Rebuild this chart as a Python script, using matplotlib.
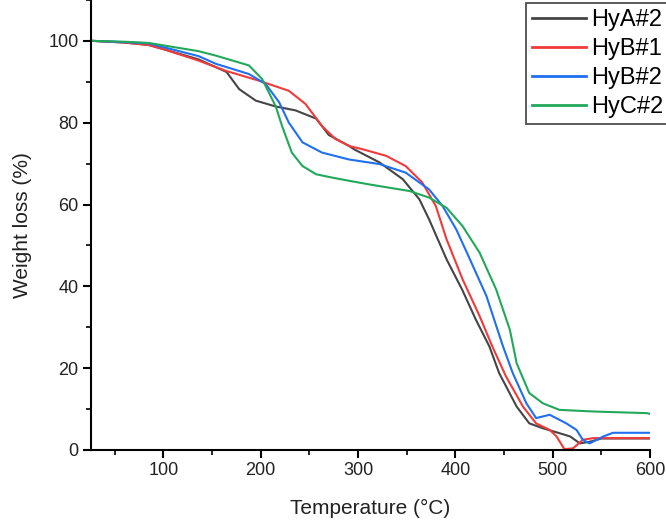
import numpy as np
import matplotlib
matplotlib.use("Agg")
import matplotlib.pyplot as plt
from matplotlib.ticker import MultipleLocator

# -------------------------------
# Data
# -------------------------------
hya2_t = [28, 60, 85, 100, 136, 165, 178, 195, 215, 236, 257, 270, 291, 296, 322, 346,
          363, 373, 391, 407, 421, 435, 445, 463, 476, 490, 507, 518, 528, 538, 550, 600]
hya2_w = [100, 99.6, 99.0, 98.0, 95.5, 92.4, 88.2, 85.4, 84.0, 83.0, 81.0, 77.0, 74.3, 73.5, 70.3, 66.2,
          61.3, 56.4, 46.6, 39.2, 31.9, 25.3, 18.8, 10.6, 6.5, 5.3, 4.1, 3.3, 1.6, 2.0, 2.8, 2.8]

hyb1_t = [28, 60, 85, 100, 136, 164, 198, 229, 246, 263, 277, 291, 305, 329, 349, 366, 380,
          391, 407.5, 425, 438, 452, 469.5, 483, 497, 504, 512, 521, 531, 542, 600]
hyb1_w = [100, 99.6, 99.0, 98.0, 95.2, 92.7, 90.3, 87.8, 84.6, 79.2, 76.0, 74.3, 73.5, 71.9, 69.4, 65.4, 59.6,
          51.5, 41.7, 32.7, 25.3, 18.0, 10.6, 6.5, 4.9, 3.3, 0.2, 0.4, 2.5, 2.9, 2.9]

hyb2_t = [28, 60, 85, 136, 154, 188, 205, 219, 229, 243, 263, 291, 322, 349, 373, 387, 401,
          415, 432, 449, 459, 473, 483, 497, 514, 524.5, 531, 538, 552, 562, 600]
hyb2_w = [100, 99.7, 99.4, 96.3, 94.4, 91.9, 89.5, 85.0, 80.0, 75.2, 72.7, 71.0, 69.9, 67.8, 63.7, 59.6, 53.9,
          46.6, 37.6, 25.3, 18.8, 11.4, 7.8, 8.6, 6.5, 4.9, 2.45, 1.6, 3.3, 4.2, 4.2]

hyc2_t = [28, 60, 85, 136, 154, 188, 201.5, 215.5, 222, 232, 243, 257, 271, 291, 312, 353, 373,
          391, 407.5, 425, 442, 456, 463, 476, 490, 507, 542, 597, 600]
hyc2_w = [100, 99.8, 99.5, 97.5, 96.4, 94.0, 90.7, 84.0, 79.2, 72.7, 69.4, 67.4, 66.7, 65.8, 64.9, 63.3, 61.7,
          59.2, 54.7, 48.2, 39.2, 29.4, 21.2, 13.9, 11.4, 9.8, 9.4, 9.0, 8.8]

labels = ["HyA#2", "HyB#1", "HyB#2", "HyC#2"]
colors = ["#454545", "#f23a3a", "#1f6ff0", "#22a85a"]

# -------------------------------
# Plot
# -------------------------------
plt.rcParams["font.family"] = ["Liberation Sans", "DejaVu Sans"]

fig = plt.figure(figsize=(6.66, 5.22), dpi=100)
ax = fig.add_axes([0.1366, 0.138, 0.976 - 0.1366, 0.862])

series = [(hya2_t, hya2_w), (hyb1_t, hyb1_w), (hyb2_t, hyb2_w), (hyc2_t, hyc2_w)]
for (t, w), lab, c in zip(series, labels, colors):
    ax.plot(t, w, color=c, lw=1.5, label=lab)

ax.set_xlim(25.7, 600)
ax.set_ylim(0, 110)
ax.xaxis.set_major_locator(MultipleLocator(100))
ax.xaxis.set_minor_locator(MultipleLocator(50))
ax.yaxis.set_major_locator(MultipleLocator(20))
ax.yaxis.set_minor_locator(MultipleLocator(10))
ax.set_xticks([100, 200, 300, 400, 500, 600])

for side in ["top", "right"]:
    ax.spines[side].set_visible(False)
for side in ["left", "bottom"]:
    ax.spines[side].set_linewidth(1.5)

ax.tick_params(which="major", direction="out", length=5.5, width=1.5, labelsize=13, colors="black",
               labelcolor="#222222")
ax.tick_params(which="minor", direction="out", length=3.5, width=1.2)

ax.set_xlabel("Temperature (°C)", fontsize=15, color="#222222", labelpad=14)
ax.set_ylabel("Weight loss (%)", fontsize=15, color="#222222", labelpad=12)

leg = ax.legend(loc="upper left", bbox_to_anchor=(526 / 666, 519 / 522), bbox_transform=fig.transFigure,
                fontsize=17, frameon=True, fancybox=False, handlelength=2.3, handletextpad=0.2,
                labelspacing=0.3, borderpad=0.25, borderaxespad=0)
leg.get_frame().set_edgecolor("#222222")
leg.get_frame().set_linewidth(1.3)
for line in leg.get_lines():
    line.set_linewidth(2.0)

fig.savefig("out.png", dpi=100)
